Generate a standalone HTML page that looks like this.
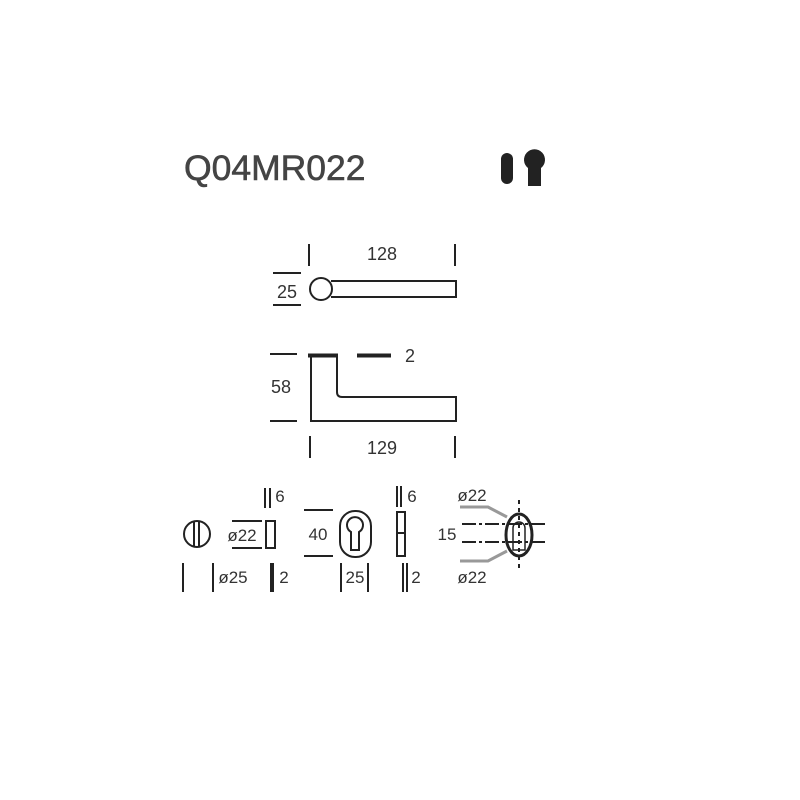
<!DOCTYPE html>
<html><head><meta charset="utf-8"><style>
html,body{margin:0;padding:0;background:#fff;}
svg{display:block;}
text{font-family:"Liberation Sans",sans-serif;fill:#333;}
</style></head><body>
<svg width="800" height="800" viewBox="0 0 800 800" xmlns="http://www.w3.org/2000/svg">
<rect width="800" height="800" fill="#fff"/>
<text x="184" y="180" font-size="35.5" style="fill:#444;stroke:#444;stroke-width:0.6">Q04MR022</text>
<rect x="501" y="153" width="12" height="31" rx="6" fill="#222"/>
<path d="M528 186 V168 A10.5 10.5 0 1 1 541 168 V186 Z" fill="#222"/>

<g stroke="#222" stroke-width="2" fill="none">
<line x1="309" y1="244" x2="309" y2="266"/>
<line x1="455" y1="244" x2="455" y2="266"/>
<circle cx="321" cy="289" r="11"/>
<path d="M331 281 H456 V297 H331"/>
<line x1="273" y1="273" x2="301" y2="273"/>
<line x1="273" y1="305" x2="301" y2="305"/>
<line x1="270" y1="354" x2="297" y2="354"/>
<line x1="270" y1="421" x2="297" y2="421"/>
<line x1="308" y1="355.5" x2="338" y2="355.5" stroke-width="4"/>
<line x1="357" y1="355.5" x2="391" y2="355.5" stroke-width="4"/>
<path d="M311 356 V421 H456 V397 H342 Q337 397 337 392 V357"/>
<line x1="310" y1="436" x2="310" y2="458"/>
<line x1="455" y1="436" x2="455" y2="458"/>
<circle cx="197" cy="534" r="13"/>
<line x1="194" y1="522" x2="194" y2="546"/>
<line x1="199" y1="522" x2="199" y2="546"/>
<line x1="232" y1="521" x2="262" y2="521"/>
<line x1="232" y1="548" x2="262" y2="548"/>
<rect x="266" y="521" width="9" height="27"/>
<line x1="265" y1="488" x2="265" y2="508"/>
<line x1="270" y1="488" x2="270" y2="508"/>
<line x1="183" y1="563" x2="183" y2="592"/>
<line x1="213" y1="563" x2="213" y2="592"/>
<line x1="272" y1="563" x2="272" y2="592" stroke-width="4"/>
<line x1="304" y1="510" x2="333" y2="510"/>
<line x1="304" y1="556" x2="333" y2="556"/>
<rect x="340" y="511" width="31" height="46" rx="15"/>
<path d="M351 550 V532 A8 8 0 1 1 359 532 V550 Z"/>
<line x1="341" y1="563" x2="341" y2="592"/>
<line x1="368" y1="563" x2="368" y2="592"/>
<line x1="397" y1="486" x2="397" y2="507"/>
<line x1="401" y1="486" x2="401" y2="507"/>
<rect x="397" y="512" width="8" height="44"/>
<line x1="397" y1="533" x2="405" y2="533"/>
<line x1="403" y1="563" x2="403" y2="592"/>
<line x1="407" y1="563" x2="407" y2="592"/>
<path d="M460 507 H488 L507 517" stroke="#999" stroke-width="3"/>
<path d="M460 561 H488 L507 551" stroke="#999" stroke-width="3"/>
<line x1="462" y1="524" x2="545" y2="524" stroke-dasharray="14 3 3 3"/>
<line x1="462" y1="542" x2="545" y2="542" stroke-dasharray="14 3 3 3"/>
<line x1="519" y1="500" x2="519" y2="568" stroke-dasharray="4 4"/>
<ellipse cx="519" cy="535" rx="13" ry="21" stroke-width="3"/>
<path d="M513 540 V528 A6 6 0 1 1 525 528 V550 H513 Z" stroke-width="1.5"/>
</g>

<text x="382" y="260" font-size="18" text-anchor="middle">128</text>
<text x="287" y="298" font-size="18" text-anchor="middle">25</text>
<text x="281" y="393" font-size="18" text-anchor="middle">58</text>
<text x="410" y="362" font-size="18" text-anchor="middle">2</text>
<text x="382" y="454" font-size="18" text-anchor="middle">129</text>
<text x="242" y="541" font-size="17" text-anchor="middle">ø22</text>
<text x="280" y="502" font-size="17" text-anchor="middle">6</text>
<text x="233" y="583" font-size="17" text-anchor="middle">ø25</text>
<text x="284" y="583" font-size="17" text-anchor="middle">2</text>
<text x="318" y="540" font-size="17" text-anchor="middle">40</text>
<text x="355" y="583" font-size="17" text-anchor="middle">25</text>
<text x="412" y="502" font-size="17" text-anchor="middle">6</text>
<text x="416" y="583" font-size="17" text-anchor="middle">2</text>
<text x="472" y="501" font-size="17" text-anchor="middle">ø22</text>
<text x="447" y="540" font-size="17" text-anchor="middle">15</text>
<text x="472" y="583" font-size="17" text-anchor="middle">ø22</text>
</svg>
</body></html>
